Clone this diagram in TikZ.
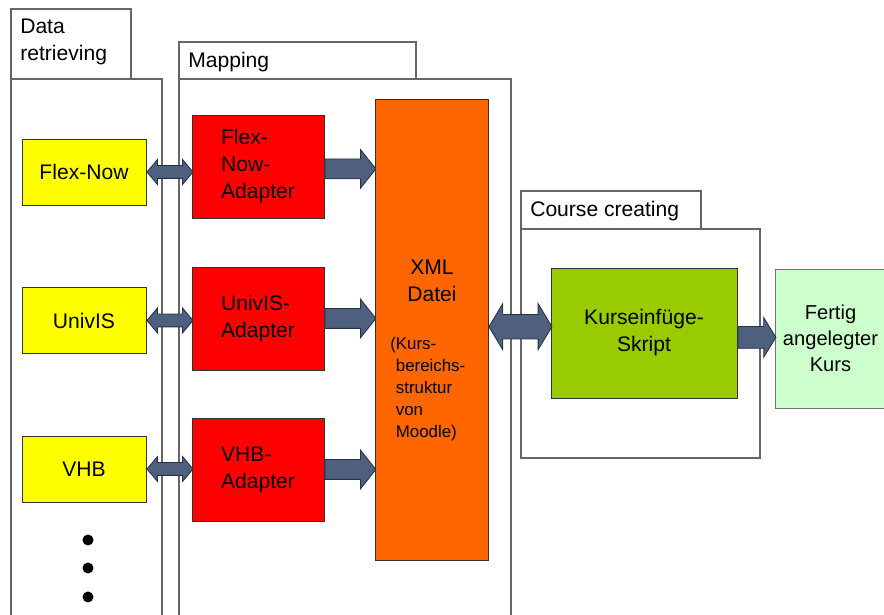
\documentclass[tikz,border=0pt]{standalone}
\usepackage{fontspec}
\setmainfont{Liberation Sans}
\usepackage{xcolor}
\usetikzlibrary{shapes.arrows}
\definecolor{srcyellow}{HTML}{FFFF00}
\definecolor{adapterred}{HTML}{FF0000}
\definecolor{xmlorange}{HTML}{FF6600}
\definecolor{scriptgreen}{HTML}{99CC00}
\definecolor{doneGreen}{HTML}{CCFFCC}
\definecolor{arrowfill}{HTML}{4F5F7E}
\definecolor{arrowline}{HTML}{27324A}

\begin{document}
\begin{tikzpicture}[x=0.025cm,y=-0.025cm]
	 \tikzstyle{panel}=[draw=black!60,line width=0.9pt]
	 \tikzstyle{tab label}=[anchor=north west,inner sep=0pt,align=left,font=\fontsize{15}{19}\selectfont]
	 \tikzstyle{box}=[draw=black!80,line width=0.6pt,inner sep=0pt,align=center,font=\fontsize{15}{19.2}\selectfont]
	 \tikzstyle{source}=[box,fill=srcyellow,minimum width=3.1cm,minimum height=1.65cm]
	 \tikzstyle{adapter}=[box,fill=adapterred,minimum width=3.3cm,minimum height=2.575cm,align=left]
	 \tikzstyle{dot}=[circle,fill=black,minimum size=0.275cm,inner sep=0pt]
	 \tikzstyle{fat arrow}=[draw=arrowline,fill=arrowfill,line width=0.6pt,inner xsep=0pt]
	 \tikzstyle{short link}=[fat arrow,double arrow,inner ysep=0.15cm,double arrow head extend=0.15cm,double arrow tip angle=100,minimum width=0.6cm,minimum height=1.15cm]
	 \tikzstyle{map link}=[fat arrow,single arrow,inner ysep=0.2375cm,single arrow head extend=0.2375cm,single arrow tip angle=103,minimum width=0.95cm,minimum height=1.275cm]
	 \tikzstyle{xml link}=[fat arrow,double arrow,inner ysep=0.2875cm,double arrow head extend=0.2625cm,double arrow tip angle=118,minimum width=1.15cm,minimum height=1.575cm]
	 \tikzstyle{out link}=[fat arrow,single arrow,inner ysep=0.2625cm,single arrow head extend=0.225cm,single arrow tip angle=117,minimum width=0.975cm,minimum height=0.95cm]
	 \useasboundingbox (0,0) rectangle (884,615);
	 \draw[panel] (11,79) rectangle (162,640);
	 \draw[panel] (11,9) rectangle (131,79);
	 \draw[panel] (179,79) rectangle (511,640);
	 \draw[panel] (179,42) rectangle (416,79);
	 \draw[panel] (521,229) rectangle (760,458);
	 \draw[panel] (521,191) rectangle (701,229);
	 \node[tab label] (t1) at (20,19) {Data\\retrieving};
	 \node[tab label] (t2) at (188,52) {Mapping};
	 \node[tab label] (t3) at (530,201) {Course creating};
	 \node[source] (s1) at (84,172) {Flex-Now};
	 \node[source] (s2) at (84,320.5) {UnivIS};
	 \node[source] (s3) at (84,469) {VHB};
	 \node[dot] (p1) at (88,540) {};
	 \node[dot] (p2) at (88,568) {};
	 \node[dot] (p3) at (88,597) {};
	 \node[adapter] (a1) at (258,166.5) {Flex-\\Now-\\Adapter};
	 \node[adapter] (a2) at (258,318.5) {UnivIS-\\Adapter};
	 \node[adapter] (a3) at (258,469.5) {VHB-\\Adapter};
	 \node[box,fill=xmlorange,minimum width=2.825cm,minimum height=11.525cm] (xml) at (431.5,329.5) {};
	 \node[inner sep=0pt,align=center,font=\fontsize{15}{19.2}\selectfont] (xmltitle) at (432,281) {XML\\Datei};
	 \node[anchor=north west,inner sep=0pt,align=left,font=\fontsize{12}{15.6}\selectfont] (xmlnote) at (390,337) {(Kurs-\\\phantom{(}bereichs-\\\phantom{(}struktur\\\phantom{(}von\\\phantom{(}Moodle)};
	 \node[box,fill=scriptgreen,minimum width=4.65cm,minimum height=3.25cm] (ks) at (644,333) {Kurseinf\"uge-\\Skript};
	 \node[box,draw=black!55,fill=doneGreen,minimum width=2.775cm,minimum height=3.475cm,font=\fontsize{14.3}{18.5}\selectfont] (fk) at (830.5,338.5) {Fertig\\angelegter\\Kurs};
	 \node[short link,anchor=west] (d1) at (s1.east) {};
	 \node[short link,anchor=west] (d2) at (s2.east) {};
	 \node[short link,anchor=west] (d3) at (s3.east) {};
	 \node[map link,anchor=west] (m1) at ([yshift=-0.06cm]a1.east) {};
	 \node[map link,anchor=west] (m2) at (a2.east) {};
	 \node[map link,anchor=west] (m3) at (a3.east) {};
	 \node[xml link,anchor=west] (x1) at ([yshift=0.07cm]xml.east) {};
	 \node[out link,anchor=west] (o1) at ([yshift=-0.11cm]ks.east) {};
 	\end{tikzpicture}
\end{document}
